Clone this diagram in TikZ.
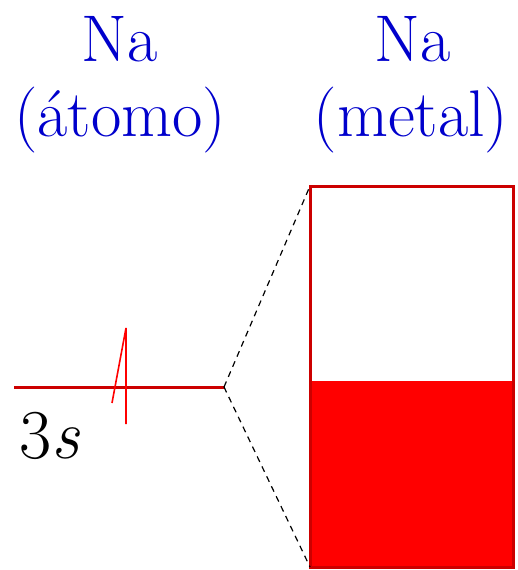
\documentclass[tikz,border=0pt]{standalone}
\begin{document}
\begin{tikzpicture}[x=1pt,y=-1pt,
  title/.style={text=ttl, font=\fontsize{66}{75}\selectfont, anchor=base, inner sep=0pt},
  lvl/.style={draw=dred, line width=3pt},
  spin/.style={draw=red, line width=1.6pt},
  conn/.style={draw=black, dashed, line width=1.2pt, dash pattern=on 6pt off 5pt}]
\definecolor{ttl}{HTML}{0000CC}
\definecolor{dred}{HTML}{CC0000}
\useasboundingbox (0,0) rectangle (518,570);
% titles
\node[title] (na1) at (120,61) {Na};
\node[title] (at) at (120,136) {(átomo)};
\node[title] (na2) at (413,61) {Na};
\node[title] (me) at (411,136) {(metal)};
% atomic level
\coordinate (l0) at (14,387);
\coordinate (l1) at (224,387);
\draw[lvl] (l0) -- (l1);
\coordinate (s0) at (126,328);
\coordinate (s1) at (126,424);
\coordinate (s2) at (112,403);
\draw[spin] (s1) -- (s0) -- (s2);
\node[anchor=base west, inner sep=0pt, font=\fontsize{70}{72}\selectfont] (lab) at (19,458) {3\textit{s}};
% band
\fill[red] (310,381) rectangle (513,567);
\draw[lvl] (310,186) rectangle (513,567);
\coordinate (bt) at (310,186);
\coordinate (bb) at (310,567);
\draw[conn] (l1) -- (bt);
\draw[conn] (l1) -- (bb);
\end{tikzpicture}
\end{document}
